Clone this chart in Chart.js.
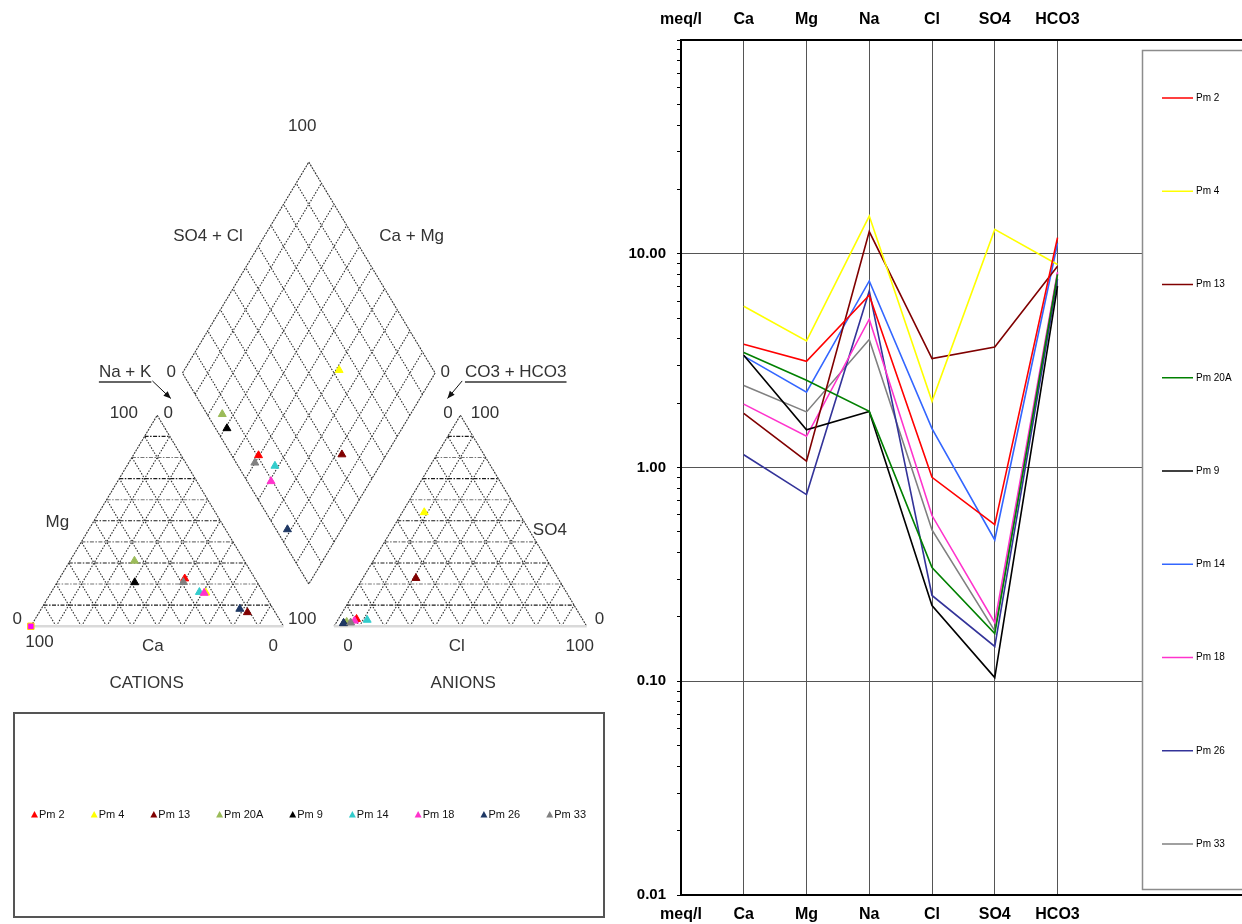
<!DOCTYPE html>
<html>
<head>
<meta charset="utf-8">
<script src="https://cdn.jsdelivr.net/npm/chart.js@4.4.0/dist/chart.umd.min.js"></script>
<style>
  html, body { margin: 0; padding: 0; background: #fff; }
  body { width: 1242px; height: 924px; position: relative; overflow: hidden; }
  #piperWrap { position: absolute; left: 0; top: 0; width: 620px; height: 924px; }
  #schoellerWrap { position: absolute; left: 620px; top: 0; width: 622px; height: 924px; }
</style>
</head>
<body>
<div id="piperWrap"><canvas id="piper"></canvas></div>
<div id="schoellerWrap"><canvas id="schoeller"></canvas></div>
<script>
const FONT = '"Liberation Sans", Arial, sans-serif';

// samples (same order in both diagrams)
const samples = ['Pm 2', 'Pm 4', 'Pm 13', 'Pm 20A', 'Pm 9', 'Pm 14', 'Pm 18', 'Pm 26', 'Pm 33'];
const piperColors = ['#FF0000', '#FFFF00', '#800000', '#9BBB59', '#000000', '#33CCCC', '#FF33CC', '#1F3864', '#808080'];
const lineColors = ['#FF0000', '#FFFF00', '#800000', '#008000', '#000000', '#3366FF', '#FF33CC', '#333399', '#808080'];

// Piper: percentages of meq (cations / anions)
const caPct = [27.8, 22.8, 11.0, 43.5, 48.5, 25.2, 23.5, 13.2, 29.2];
const mgPct = [22.6, 15.9, 6.6, 31.0, 20.8, 16.2, 15.8, 8.2, 20.9];
const clPct = [7.2, 8.7, 21.0, 4.0, 3.1, 11.6, 6.8, 3.0, 5.7];
const so4Pct = [3.4, 54.0, 22.8, 2.0, 1.4, 3.0, 2.6, 1.5, 1.7];
// odd point sitting on the Ca corner
const cornerCa = [100];
const cornerMg = [0];

// Schoeller: meq/l
const ions = ['Ca', 'Mg', 'Na', 'Cl', 'SO4', 'HCO3'];
const pm2 = [3.77, 3.14, 6.40, 0.90, 0.54, 11.9];
const pm4 = [5.68, 3.91, 15.0, 2.04, 13.0, 8.9];
const pm13 = [1.79, 1.07, 12.7, 3.23, 3.66, 8.75];
const pm20A = [3.45, 2.56, 1.83, 0.34, 0.167, 8.0];
const pm9 = [3.35, 1.50, 1.83, 0.226, 0.104, 7.05];
const pm14 = [3.32, 2.25, 7.46, 1.52, 0.458, 11.2];
const pm18 = [1.98, 1.40, 4.94, 0.596, 0.188, 8.2];
const pm26 = [1.147, 0.747, 6.70, 0.252, 0.1455, 7.6];
const pm33 = [2.42, 1.82, 3.97, 0.51, 0.172, 8.1];
const meqValues = [pm2, pm4, pm13, pm20A, pm9, pm14, pm18, pm26, pm33];
const axisLabels = ['meq/l'].concat(ions);

// ---------- Piper geometry (triangles side 100, gap 20) ----------
const H = Math.sqrt(3) / 2;
function cationXY(ca, mg) {
    const na = 100 - ca - mg;
    return { x: na + mg / 2, y: mg * H };
}
function anionXY(cl, so4) {
    return { x: 120 + cl + so4 / 2, y: so4 * H };
}
function diamondXY(cam, so4cl) {
    return { x: 110 + (so4cl - cam) / 2, y: 20 * H + (cam + so4cl) * H };
}

const piperTexts = [
    ['100', 107.4, 205.4], ['SO4 + Cl', 70.1, 159.9], ['Ca + Mg', 150.7, 159.9],
    ['Na + K', 37.3, 104.4, true], ['0', 55.6, 104.4], ['0', 164.0, 104.4], ['CO3 + HCO3', 191.9, 104.4, true],
    ['100', 36.8, 87.5], ['0', 54.4, 87.5], ['0', 165.1, 87.5], ['100', 179.7, 87.5],
    ['Mg', 10.5, 42.5], ['0', -5.4, 2.9], ['100', 107.4, 2.9],
    ['100', 3.4, -6.6], ['Ca', 48.3, -8.3], ['0', 95.9, -8.3],
    ['SO4', 205.4, 39.5], ['0', 225.0, 2.9], ['0', 125.5, -8.3], ['Cl', 168.6, -8.3], ['100', 217.2, -8.3],
    ['CATIONS', 45.8, -23.6], ['ANIONS', 171.1, -23.6]
];
const piperArrows = [
    [48.1, 100.7, 55.4, 93.5],
    [170.7, 100.7, 164.9, 93.5]
];

const piperFrame = {
    id: 'piperFrame',
    beforeDatasetsDraw(chart) {
        const ctx = chart.ctx;
        const sx = chart.scales.x, sy = chart.scales.y;
        const px = p => [sx.getPixelForValue(p[0]), sy.getPixelForValue(p[1])];
        function line(a, b) {
            const p = px(a), q = px(b);
            ctx.beginPath();
            ctx.moveTo(p[0], p[1]);
            ctx.lineTo(q[0], q[1]);
            ctx.stroke();
        }
        ctx.save();
        ctx.lineWidth = 1.1;
        for (let f = 10; f < 100; f += 10) {
            // dotted diagonals
            ctx.strokeStyle = '#2a2a2a';
            ctx.setLineDash([1.5, 1.5]);
            [0, 120].forEach(ox => {
                line([ox + f, 0], [ox + 50 + f / 2, (100 - f) * H]);
                line([ox + 100 - f, 0], [ox + (100 - f) / 2, (100 - f) * H]);
            });
            const a = diamondXY(f, 0), b = diamondXY(f, 100);
            line([a.x, a.y], [b.x, b.y]);
            const c = diamondXY(0, f), d = diamondXY(100, f);
            line([c.x, c.y], [d.x, d.y]);
            // dash-dot horizontals in the triangles
            ctx.strokeStyle = (f / 10) % 2 ? '#1a1a1a' : '#777';
            ctx.setLineDash([4, 1.5, 1.5, 1.5]);
            [0, 120].forEach(ox => {
                line([ox + f / 2, f * H], [ox + 100 - f / 2, f * H]);
            });
        }
        // outlines
        ctx.strokeStyle = '#333';
        ctx.setLineDash([2, 1]);
        [0, 120].forEach(ox => {
            line([ox, 0], [ox + 50, 100 * H]);
            line([ox + 50, 100 * H], [ox + 100, 0]);
        });
        const dv = [diamondXY(0, 0), diamondXY(100, 0), diamondXY(100, 100), diamondXY(0, 100)];
        for (let i = 0; i < 4; i++) {
            const a = dv[i], b = dv[(i + 1) % 4];
            line([a.x, a.y], [b.x, b.y]);
        }
        ctx.setLineDash([]);
        ctx.strokeStyle = '#d9d9d9';
        ctx.lineWidth = 2.5;
        line([0, 0], [100, 0]);
        line([120, 0], [220, 0]);
        ctx.restore();
    },
    afterDraw(chart) {
        const ctx = chart.ctx;
        const sx = chart.scales.x, sy = chart.scales.y;
        ctx.save();
        ctx.fillStyle = '#333';
        ctx.strokeStyle = '#333';
        ctx.font = '17px ' + FONT;
        ctx.textAlign = 'center';
        ctx.textBaseline = 'middle';
        piperTexts.forEach(t => {
            const x = sx.getPixelForValue(t[1]), y = sy.getPixelForValue(t[2]);
            ctx.fillText(t[0], x, y);
            if (t[3]) {
                const w = ctx.measureText(t[0]).width;
                ctx.lineWidth = 1.5;
                ctx.beginPath();
                ctx.moveTo(x - w / 2, y + 10);
                ctx.lineTo(x + w / 2, y + 10);
                ctx.stroke();
            }
        });
        ctx.fillStyle = '#111';
        ctx.strokeStyle = '#111';
        ctx.lineWidth = 1;
        piperArrows.forEach(a => {
            const x0 = sx.getPixelForValue(a[0]), y0 = sy.getPixelForValue(a[1]);
            const x1 = sx.getPixelForValue(a[2]), y1 = sy.getPixelForValue(a[3]);
            const ang = Math.atan2(y1 - y0, x1 - x0);
            ctx.beginPath();
            ctx.moveTo(x0, y0);
            ctx.lineTo(x1, y1);
            ctx.stroke();
            ctx.beginPath();
            ctx.moveTo(x1, y1);
            ctx.lineTo(x1 - 8 * Math.cos(ang - 0.4), y1 - 8 * Math.sin(ang - 0.4));
            ctx.lineTo(x1 - 8 * Math.cos(ang + 0.4), y1 - 8 * Math.sin(ang + 0.4));
            ctx.closePath();
            ctx.fill();
        });

        // legend box under the diagram
        ctx.strokeStyle = '#555';
        ctx.lineWidth = 2;
        ctx.strokeRect(14, 713, 590, 204);
        ctx.font = '11px ' + FONT;
        ctx.textAlign = 'left';
        const widths = samples.map(s => ctx.measureText(s).width + 9);
        const left = 31, right = 587;
        const gap = (right - left - widths.reduce((a, b) => a + b, 0)) / (samples.length - 1);
        let x = left;
        const y = 815;
        samples.forEach((s, i) => {
            ctx.fillStyle = piperColors[i];
            ctx.beginPath();
            ctx.moveTo(x + 3.5, y - 4);
            ctx.lineTo(x + 7, y + 2.5);
            ctx.lineTo(x, y + 2.5);
            ctx.closePath();
            ctx.fill();
            ctx.fillStyle = '#111';
            ctx.fillText(s, x + 8, y);
            x += widths[i] + gap;
        });
        ctx.restore();
    }
};

const piperDatasets = samples.map((name, i) => ({
    label: name,
    data: [
        cationXY(caPct[i], mgPct[i]),
        anionXY(clPct[i], so4Pct[i]),
        diamondXY(caPct[i] + mgPct[i], clPct[i] + so4Pct[i])
    ],
    pointStyle: 'triangle',
    pointRadius: 4.6,
    backgroundColor: piperColors[i],
    borderColor: piperColors[i],
    borderWidth: 1,
    order: samples.length - i,
    clip: false
}));
piperDatasets.push({
    label: '',
    data: cornerCa.map((ca, i) => cationXY(ca, cornerMg[i])),
    pointStyle: 'rect',
    pointRadius: 4.5,
    backgroundColor: '#FF00FF',
    borderColor: '#FFCC00',
    borderWidth: 1,
    order: 0,
    clip: false
});

new Chart(document.getElementById('piper'), {
    type: 'scatter',
    data: { datasets: piperDatasets },
    options: {
        responsive: true,
        maintainAspectRatio: false,
        animation: false,
        layout: { padding: { left: 1, right: 8, top: 139, bottom: 249 } },
        scales: {
            x: { type: 'linear', min: -10, max: 230, display: false },
            y: { type: 'linear', min: -20, max: 200, display: false }
        },
        plugins: { legend: { display: false }, tooltip: { enabled: false } }
    },
    plugins: [piperFrame]
});

// ---------- Schoeller diagram ----------
const schoellerLegend = {
    id: 'schoellerLegend',
    afterDraw(chart) {
        const ctx = chart.ctx;
        ctx.save();
        ctx.fillStyle = '#fff';
        ctx.fillRect(522, 50, 120, 840);
        ctx.strokeStyle = '#8c8c8c';
        ctx.lineWidth = 1.5;
        ctx.strokeRect(522.5, 50.5, 120, 839);
        ctx.font = '10px ' + FONT;
        ctx.textBaseline = 'middle';
        ctx.textAlign = 'left';
        chart.data.datasets.forEach((ds, i) => {
            const y = 98 + i * 93.25;
            ctx.strokeStyle = ds.borderColor;
            ctx.lineWidth = 1.5;
            ctx.beginPath();
            ctx.moveTo(542, y);
            ctx.lineTo(573, y);
            ctx.stroke();
            ctx.fillStyle = '#000';
            ctx.fillText(ds.label, 576, y);
        });
        ctx.restore();
    }
};

function categoryTicks(scale) {
    scale.ticks = axisLabels.map((_, i) => ({ value: i }));
}
const xTickFont = { family: FONT, size: 16, weight: 'bold' };

new Chart(document.getElementById('schoeller'), {
    type: 'line',
    data: {
        datasets: samples.map((name, i) => ({
            label: name,
            data: meqValues[i].map((v, j) => ({ x: j + 1, y: v })),
            borderColor: lineColors[i],
            backgroundColor: lineColors[i],
            borderWidth: 1.6,
            pointRadius: 0,
            tension: 0
        }))
    },
    options: {
        responsive: true,
        maintainAspectRatio: false,
        animation: false,
        layout: { padding: 0 },
        plugins: { legend: { display: false }, tooltip: { enabled: false } },
        scales: {
            x: {
                type: 'linear',
                position: 'bottom',
                min: 0,
                max: 8.94,
                afterBuildTicks: categoryTicks,
                afterFit: s => { s.height = 29; },
                ticks: {
                    autoSkip: false,
                    maxRotation: 0,
                    padding: 10,
                    color: '#000',
                    font: xTickFont,
                    callback: v => axisLabels[v] || ''
                },
                grid: {
                    drawTicks: false,
                    color: c => (c.tick && c.tick.value > 0) ? '#555' : 'rgba(0,0,0,0)',
                    lineWidth: 1
                },
                border: { color: '#000', width: 2 }
            },
            x2: {
                type: 'linear',
                position: 'top',
                min: 0,
                max: 8.94,
                afterBuildTicks: categoryTicks,
                afterFit: s => { s.height = 40; },
                ticks: {
                    autoSkip: false,
                    maxRotation: 0,
                    padding: 11,
                    color: '#000',
                    font: xTickFont,
                    callback: v => axisLabels[v] || ''
                },
                grid: { display: false, drawTicks: false },
                border: { color: '#000', width: 2 }
            },
            y: {
                type: 'logarithmic',
                min: 0.01,
                max: 100,
                afterBuildTicks: s => {
                    const t = [];
                    for (let e = -2; e < 2; e++) {
                        for (let m = 1; m < 10; m++) {
                            t.push({ value: m * Math.pow(10, e), major: m === 1 });
                        }
                    }
                    t.push({ value: 100, major: false });
                    s.ticks = t;
                },
                afterFit: s => { s.width = 61; },
                ticks: {
                    autoSkip: false,
                    padding: 11,
                    color: '#000',
                    font: { family: FONT, size: 15, weight: 'bold' },
                    callback: (v, i, ticks) => ticks[i].major ? v.toFixed(2) : ''
                },
                grid: {
                    tickLength: 4,
                    color: c => (c.tick && c.tick.major) ? '#555' : 'rgba(0,0,0,0)',
                    tickColor: '#000',
                    lineWidth: 1
                },
                border: { color: '#000', width: 2 }
            }
        }
    },
    plugins: [schoellerLegend]
});
</script>
</body>
</html>
